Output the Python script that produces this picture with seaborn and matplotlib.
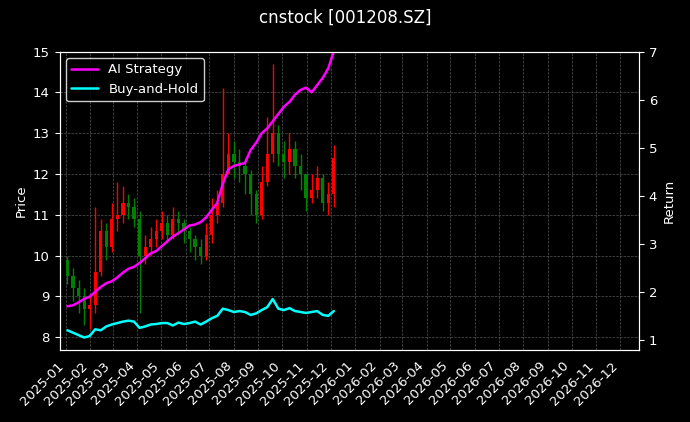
import matplotlib
matplotlib.use("Agg")
import matplotlib.pyplot as plt
import matplotlib.dates as mdates
import seaborn as sns
import numpy as np
import pandas as pd

# 周线数据
week_dates = pd.date_range("2025-01-03", "2025-12-05", freq="W-FRI")
opens = [9.9, 9.5, 9.2, 9.0, 8.7, 8.8, 9.6, 10.6, 10.2, 10.9, 11.0, 11.3,
         11.2, 10.9, 10.0, 10.2, 10.4, 10.6, 10.8, 10.5, 10.9, 10.8, 10.6, 10.4,
         10.2, 10.0, 10.5, 11.0, 11.3, 12.0, 12.5, 12.3, 12.2, 12.0, 11.5, 11.0,
         11.8, 12.5, 13.0, 12.5, 12.3, 12.6, 12.2, 12.0, 11.4, 11.6, 11.9, 11.3,
         11.5]
closes = [9.5, 9.2, 9.0, 8.7, 8.8, 9.6, 10.6, 10.2, 10.9, 11.0, 11.3, 11.2,
          10.9, 10.0, 10.2, 10.4, 10.6, 10.8, 10.5, 10.9, 10.8, 10.6, 10.4, 10.2,
          10.0, 10.5, 11.0, 11.3, 12.0, 12.5, 12.3, 12.2, 12.0, 11.5, 11.0, 11.8,
          12.5, 13.0, 12.5, 12.3, 12.6, 12.2, 12.0, 11.4, 11.6, 11.9, 11.3, 11.5,
          12.4]
highs = [10.0, 9.7, 9.4, 9.2, 9.0, 11.2, 10.9, 10.8, 11.3, 11.8, 11.7, 11.5,
         11.4, 11.1, 10.5, 10.7, 10.9, 11.1, 11.0, 11.2, 11.1, 10.9, 10.7, 10.5,
         10.4, 10.8, 11.4, 11.6, 14.1, 13.0, 12.8, 12.6, 12.4, 12.1, 11.6, 12.2,
         13.4, 14.7, 13.2, 12.8, 13.0, 12.8, 12.5, 12.0, 12.0, 12.2, 12.0, 11.8,
         12.7]
lows = [9.3, 8.9, 8.6, 8.3, 8.2, 8.6, 9.5, 9.9, 10.1, 10.6, 10.8, 10.9,
        10.7, 8.6, 9.8, 10.0, 10.2, 10.4, 10.3, 10.4, 10.5, 10.3, 10.1, 9.9,
        9.8, 9.9, 10.3, 10.8, 11.2, 12.0, 11.9, 11.8, 11.5, 11.0, 10.8, 10.9,
        11.7, 12.3, 12.2, 11.9, 12.0, 11.9, 11.6, 11.1, 11.3, 11.4, 11.1, 11.0,
        11.2]
ai_strategy = [1.70, 1.72, 1.78, 1.85, 1.90, 2.00, 2.10, 2.18, 2.22, 2.30, 2.40, 2.48,
               2.52, 2.60, 2.70, 2.80, 2.85, 2.95, 3.05, 3.15, 3.22, 3.30, 3.38, 3.40,
               3.45, 3.55, 3.70, 3.85, 4.25, 4.55, 4.62, 4.65, 4.68, 4.95, 5.10, 5.30,
               5.40, 5.55, 5.70, 5.85, 5.95, 6.10, 6.20, 6.25, 6.15, 6.30, 6.45, 6.65,
               7.00]
buy_hold = [1.20, 1.15, 1.10, 1.05, 1.08, 1.22, 1.20, 1.28, 1.32, 1.35, 1.38, 1.40,
            1.38, 1.25, 1.28, 1.32, 1.33, 1.35, 1.35, 1.30, 1.36, 1.33, 1.35, 1.38,
            1.32, 1.38, 1.45, 1.50, 1.65, 1.62, 1.58, 1.60, 1.58, 1.52, 1.55, 1.62,
            1.68, 1.85, 1.65, 1.62, 1.66, 1.60, 1.58, 1.56, 1.58, 1.60, 1.52, 1.50,
            1.60]

df = pd.DataFrame({"date": week_dates, "open": opens, "high": highs, "low": lows,
                   "close": closes, "AI Strategy": ai_strategy, "Buy-and-Hold": buy_hold})

plt.style.use("dark_background")
sns.set_style("darkgrid", {"axes.facecolor": "black", "figure.facecolor": "black",
                           "grid.color": "#555555", "grid.linestyle": "--",
                           "axes.edgecolor": "white", "text.color": "white",
                           "axes.labelcolor": "white", "xtick.color": "white",
                           "ytick.color": "white"})
plt.rcParams["font.family"] = ["DejaVu Sans"]
plt.rcParams["font.size"] = 9.5

fig, ax = plt.subplots(figsize=(6.9, 4.22), dpi=100)
colors = np.where(df["close"] >= df["open"], "red", "green")
ax.vlines(df["date"], df["low"], df["high"], colors=colors, linewidth=1)
ax.bar(df["date"], df["close"] - df["open"], bottom=df["open"], width=4,
       color=colors, linewidth=0)
ax.set_ylim(7.7, 15)
ax.set_ylabel("Price")
ax.grid(True, linestyle="--", linewidth=0.5, color="#555555")

ax2 = ax.twinx()
sns.lineplot(data=df, x="date", y="AI Strategy", ax=ax2, color="magenta", linewidth=1.8, label="AI Strategy")
sns.lineplot(data=df, x="date", y="Buy-and-Hold", ax=ax2, color="cyan", linewidth=1.8, label="Buy-and-Hold")
ax2.set_ylim(0.8, 7)
ax2.set_ylabel("Return")
ax2.grid(False)
ax2.get_legend().remove()
h, l = ax2.get_legend_handles_labels()
ax2.legend(h, l, loc="upper left", facecolor="black", edgecolor="white")

ax.set_xlim(pd.Timestamp("2024-12-24"), pd.Timestamp("2026-12-25"))
ax.xaxis.set_major_locator(mdates.MonthLocator())
ax.xaxis.set_major_formatter(mdates.DateFormatter("%Y-%m"))
plt.setp(ax.get_xticklabels(), rotation=45, ha="right")
for a in (ax, ax2):
    for s in a.spines.values():
        s.set_color("white")
ax.set_xlabel("")
ax2.set_xlabel("")
fig.suptitle("cnstock [001208.SZ]", fontsize=12)
plt.tight_layout()
plt.savefig("out.png", dpi=100, facecolor="black")
